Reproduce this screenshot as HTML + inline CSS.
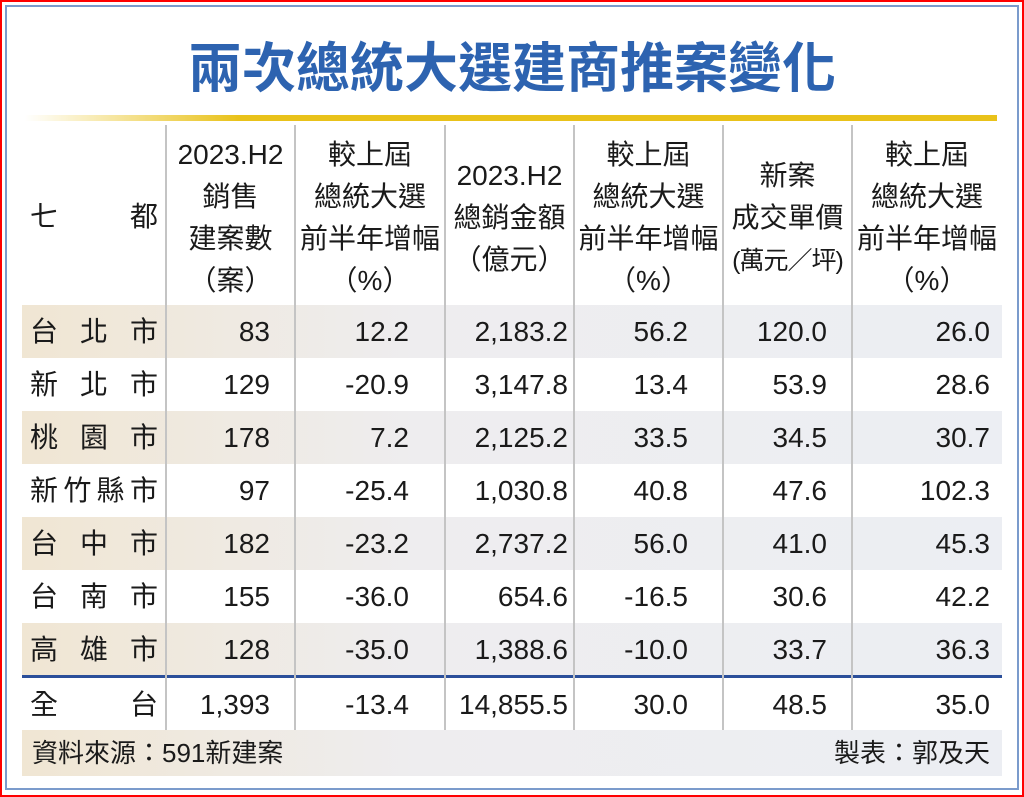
<!DOCTYPE html>
<html><head><meta charset="utf-8"><style>
*{margin:0;padding:0;box-sizing:border-box}
body{width:1024px;height:797px;background:#fff;position:relative;overflow:hidden;font-family:"Liberation Sans","Noto Sans CJK TC",sans-serif;color:#1a1a1a}
.red{position:absolute;left:0;top:0;width:1024px;height:797px;border:2px solid #f00}
.blue{position:absolute;left:5px;top:5px;width:1014px;height:785px;border:2px solid #7b9bcc}
.title{position:absolute;left:0;width:1024px;top:24px;text-align:center;font-size:54px;font-weight:bold;color:#2d63b0;letter-spacing:0px;font-family:"Noto Sans CJK TC",sans-serif;white-space:nowrap}
.gold{position:absolute;left:25px;top:115px;width:972px;height:6px;background:linear-gradient(90deg,#fff 0%,#e9c21a 22%,#e9c21a 100%)}
.sh{position:absolute;left:22px;width:980px;height:53px;background:linear-gradient(90deg,#f0e6d3 0%,#eeedef 40%,#eceef3 100%)}
.v{position:absolute;top:125px;height:605px;width:2px;background:#c4c4c4}
.h{position:absolute;top:134px;text-align:center;font-size:28px;line-height:42px;white-space:nowrap}
.c{position:absolute;font-size:28px;line-height:53px;height:53px}
.n{position:absolute;font-size:28px;line-height:53px;text-align:right}
.city{left:30px;width:128px;text-align:justify;text-align-last:justify}
</style></head><body>
<div class="red"></div><div class="blue"></div>
<div class="title">兩次總統大選建商推案變化</div>
<div class="gold"></div>
<div class="sh" style="top:305px"></div>
<div class="sh" style="top:411px"></div>
<div class="sh" style="top:517px"></div>
<div class="sh" style="top:623px"></div>
<div style="position:absolute;left:22px;top:675px;width:980px;height:3px;background:#2b4f9a"></div>
<div class="sh" style="top:730px;height:46px"></div>
<div class="v" style="left:165px"></div>
<div class="v" style="left:294px"></div>
<div class="v" style="left:444px"></div>
<div class="v" style="left:573px"></div>
<div class="v" style="left:722px"></div>
<div class="v" style="left:851px"></div>
<div class="c city" style="top:190px">七 都</div>
<div class="h" style="left:166px;width:129px">2023.H2<br>銷售<br>建案數<br>（案）</div>
<div class="h" style="left:295px;width:150px">較上屆<br>總統大選<br>前半年增幅<br>（%）</div>
<div class="h" style="left:445px;width:129px;top:155px">2023.H2<br>總銷金額<br>（億元）</div>
<div class="h" style="left:574px;width:149px">較上屆<br>總統大選<br>前半年增幅<br>（%）</div>
<div class="h" style="left:723px;width:129px;top:155px">新案<br>成交單價<br><span style="font-size:25px;letter-spacing:-1px">(萬元／坪)</span></div>
<div class="h" style="left:852px;width:150px">較上屆<br>總統大選<br>前半年增幅<br>（%）</div>

<div class="c city" style="top:305px">台 北 市</div>
<div class="c city" style="top:358px">新 北 市</div>
<div class="c city" style="top:411px">桃 園 市</div>
<div class="c city" style="top:464px">新竹縣市</div>
<div class="c city" style="top:517px">台 中 市</div>
<div class="c city" style="top:570px">台 南 市</div>
<div class="c city" style="top:623px">高 雄 市</div>
<div class="c city" style="top:678px">全 台</div>

<div class="n" style="left:166px;width:104px;top:305px">83<br>129<br>178<br>97<br>182<br>155<br>128</div>
<div class="n" style="left:295px;width:114px;top:305px">12.2<br>-20.9<br>7.2<br>-25.4<br>-23.2<br>-36.0<br>-35.0</div>
<div class="n" style="left:445px;width:123px;top:305px">2,183.2<br>3,147.8<br>2,125.2<br>1,030.8<br>2,737.2<br>654.6<br>1,388.6</div>
<div class="n" style="left:574px;width:114px;top:305px">56.2<br>13.4<br>33.5<br>40.8<br>56.0<br>-16.5<br>-10.0</div>
<div class="n" style="left:723px;width:104px;top:305px">120.0<br>53.9<br>34.5<br>47.6<br>41.0<br>30.6<br>33.7</div>
<div class="n" style="left:852px;width:138px;top:305px">26.0<br>28.6<br>30.7<br>102.3<br>45.3<br>42.2<br>36.3</div>

<div class="n" style="left:166px;width:104px;top:678px">1,393</div>
<div class="n" style="left:295px;width:114px;top:678px">-13.4</div>
<div class="n" style="left:445px;width:123px;top:678px">14,855.5</div>
<div class="n" style="left:574px;width:114px;top:678px">30.0</div>
<div class="n" style="left:723px;width:104px;top:678px">48.5</div>
<div class="n" style="left:852px;width:138px;top:678px">35.0</div>

<div style="position:absolute;left:32px;top:730px;font-size:26px;line-height:46px">資料來源：591新建案</div>
<div style="position:absolute;right:34px;top:730px;font-size:26px;line-height:46px">製表：郭及天</div>
</body></html>
